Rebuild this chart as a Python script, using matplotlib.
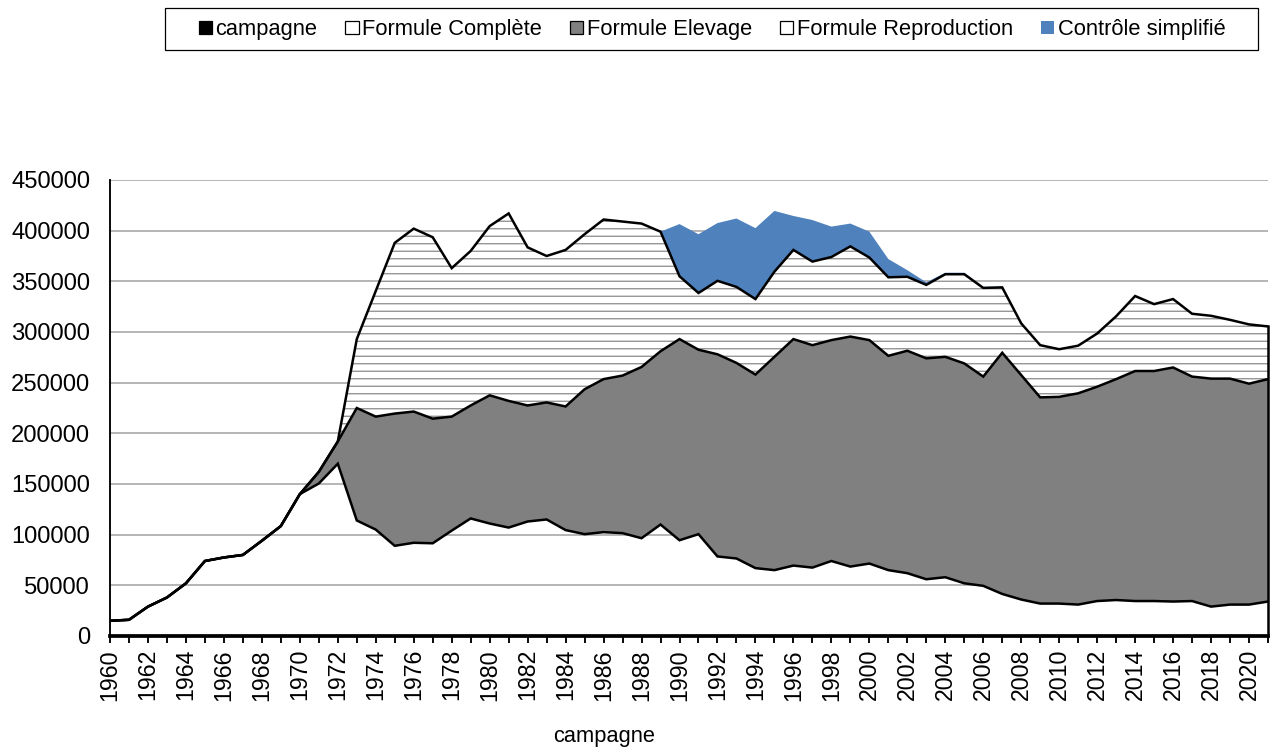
import numpy as np
import matplotlib.pyplot as plt
from matplotlib.patches import Patch, Rectangle

plt.rcParams['font.family'] = ['Liberation Sans', 'DejaVu Sans']
plt.rcParams['hatch.linewidth'] = 1.0

# ------- DATA ------- #
years = np.arange(1960, 2022)

formule_complete = [
    15000, 16000, 29000, 38000, 52000, 74000, 77500, 80000, 94000, 108500,
    140000, 150500, 170000, 114000, 105000, 89000, 92000, 91500, 104000, 116000,
    111000, 107000, 113000, 115000, 104500, 100500, 102500, 101500, 96500, 110000,
    94500, 100500, 78500, 76500, 67000, 65000, 69500, 67500, 74000, 68500,
    71500, 65000, 62000, 56000, 58000, 52000, 49500, 41500, 36000, 32000,
    32000, 31000, 34500, 35500, 34500, 34500, 34000, 34500, 29000, 31000,
    31000, 34000]

formule_elevage = [
    0, 0, 0, 0, 0, 0, 0, 0, 0, 0,
    0, 11500, 22000, 111000, 111500, 130500, 129500, 123000, 112500, 111500,
    126500, 125000, 114500, 115500, 122000, 143000, 151000, 155500, 169000, 171000,
    198500, 182000, 199500, 193000, 191000, 210500, 223500, 219500, 218000, 227000,
    220500, 211500, 219500, 218000, 217500, 217000, 206500, 238000, 221500, 203500,
    204000, 208500, 211500, 218000, 227000, 227000, 231000, 221500, 225000, 223000,
    218000, 219500]

formule_reproduction = [
    0, 0, 0, 0, 0, 0, 0, 0, 0, 0,
    0, 0, 0, 68000, 124000, 168500, 180500, 179000, 146500, 152500,
    167000, 185000, 156000, 144500, 154500, 153000, 157500, 152000, 141500, 118000,
    62000, 56000, 72500, 75000, 74500, 84000, 88000, 82500, 82000, 89000,
    81500, 77500, 73000, 72500, 81500, 88000, 87500, 64500, 51000, 51500,
    47000, 47000, 52500, 62000, 74000, 66000, 67500, 62000, 62000, 58000,
    58500, 52000]

controle_simplifie = [
    0, 0, 0, 0, 0, 0, 0, 0, 0, 0,
    0, 0, 0, 0, 0, 0, 0, 0, 0, 0,
    0, 0, 0, 0, 0, 0, 0, 0, 0, 0,
    51500, 58000, 57000, 67500, 70000, 60000, 33500, 41000, 30000, 22500,
    25500, 18000, 6500, 2500, 1500, 1500, 1000, 1000, 0, 0,
    0, 0, 0, 0, 0, 0, 0, 0, 0, 0,
    0, 0]

yticks = np.arange(0, 450001, 50000)

# ------- PLOT ------- #
W, H, DPI = 1272, 756, 90
fig = plt.figure(figsize=(W / DPI, H / DPI), dpi=DPI)
ax = fig.add_axes([110 / W, 1 - 636 / H, (1268 - 110) / W, (636 - 180) / H])

c1 = np.array(formule_complete)
c2 = c1 + np.array(formule_elevage)
c3 = c2 + np.array(formule_reproduction)
c4 = c3 + np.array(controle_simplifie)

ax.fill_between(years, c1, c2, facecolor='#808080', lw=0, zorder=2)
ax.fill_between(years, c2, c3, facecolor='white', hatch='--',
                edgecolor='#8a8a8a', lw=0, zorder=2)
ax.fill_between(years, c3, c4, facecolor='#4f81bd', lw=0, zorder=2)
for top in (c1, c2, c3):
    ax.plot(years, top, color='black', lw=2, zorder=3, solid_joinstyle='miter')
ax.plot([years[-1], years[-1]], [0, c3[-1]], color='black', lw=2,
        zorder=3, clip_on=False)

ax.set_xlim(years[0], years[-1])
ax.set_ylim(0, 450000)
ax.set_yticks(yticks)
ax.set_yticklabels([str(v) for v in yticks], fontsize=19)
ax.set_xticks(years)
ax.set_xticklabels([str(y) if y % 2 == 0 else '' for y in years],
                   rotation=90, fontsize=18.5)
ax.tick_params(axis='y', length=0, pad=16)
ax.tick_params(axis='x', length=5.5, width=1.5, direction='out', pad=5)

ax.set_axisbelow(True)
ax.yaxis.grid(True, color='#a0a0a0', lw=1.2)
for s in ('top', 'right'):
    ax.spines[s].set_visible(False)
ax.spines['left'].set_linewidth(1.5)
ax.spines['bottom'].set_linewidth(3)
ax.spines['bottom'].set_zorder(4)

ax.set_xlabel('campagne', fontsize=17.5)
ax.xaxis.set_label_coords((604 - 110) / 1158, (636 - 726) / 456)

# legend, with its frame drawn as a separate box
handles = [
    Patch(facecolor='black', edgecolor='black'),
    Patch(facecolor='white', edgecolor='black'),
    Patch(facecolor='#808080', edgecolor='black'),
    Patch(facecolor='white', edgecolor='black'),
    Patch(facecolor='#4f81bd', edgecolor='none'),
]
labels = ['campagne', 'Formule Complète', 'Formule Elevage',
          'Formule Reproduction', 'Contrôle simplifié']
fig.legend(handles, labels, loc='center', ncol=5,
           bbox_to_anchor=(712 / W, 1 - 30 / H), fontsize=17.5,
           frameon=False, handlelength=0.6, handleheight=0.55,
           handletextpad=0.15, columnspacing=1.3, borderpad=0,
           borderaxespad=0)
fig.patches.append(Rectangle((165 / W, 1 - 50 / H), (1258 - 165) / W,
                             42 / H, transform=fig.transFigure,
                             facecolor='none', edgecolor='black', lw=1.0))

plt.savefig('out.png', dpi=DPI)
